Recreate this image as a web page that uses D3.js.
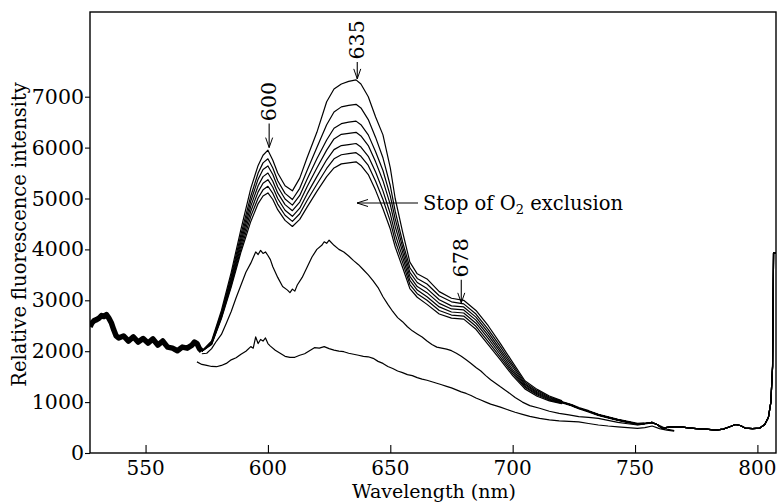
<!DOCTYPE html>
<html>
<head>
<meta charset="utf-8">
<script src="https://cdn.jsdelivr.net/npm/d3@7/dist/d3.min.js"></script>
<style>
  body { margin: 0; background: #fff; }
  svg { display: block; font-family: "DejaVu Serif", serif; }
</style>
</head>
<body>
<svg></svg>
<script>
//-------------------
// DATA
//-------------------
var xTicks = [550, 600, 650, 700, 750, 800];
var yTicks = [0, 1000, 2000, 3000, 4000, 5000, 6000, 7000];

// shared start of the seven O2-exclusion spectra
var leftTailWl = [527.3, 528, 529, 530, 531, 532, 533, 534, 535, 536, 537, 538, 539, 541, 543, 545, 547, 549, 551, 553, 555, 557, 559, 561, 563, 565, 567, 569, 570, 571, 572, 573];
var leftTailVal = [2480, 2550, 2600, 2620, 2650, 2700, 2680, 2720, 2650, 2560, 2420, 2300, 2260, 2300, 2200, 2280, 2180, 2250, 2160, 2240, 2120, 2200, 2080, 2060, 2010, 2080, 2060, 2120, 2180, 2150, 2050, 2000];

// peak region, one row per spectrum
var peakWl = [573, 577, 581, 585, 589, 593, 596, 598, 600, 602, 604, 607, 610, 613, 616, 620, 624, 627, 630, 633, 636, 638, 641, 644, 647, 650, 652, 655, 658, 661, 665, 670, 675, 680, 685, 690, 695, 700, 705, 710, 715, 720];
var trace1 = [2000, 2200, 2800, 3550, 4400, 5200, 5650, 5850, 5950, 5750, 5500, 5250, 5150, 5400, 5800, 6300, 6900, 7150, 7250, 7300, 7330, 7250, 7000, 6600, 6250, 5600, 5000, 4350, 3750, 3520, 3420, 3170, 3040, 3000, 2800, 2500, 2150, 1780, 1420, 1250, 1120, 1030];
var trace2 = [2000, 2180, 2750, 3480, 4300, 5050, 5500, 5700, 5780, 5600, 5350, 5100, 4980, 5200, 5550, 6000, 6450, 6700, 6800, 6830, 6850, 6780, 6550, 6200, 5800, 5250, 4750, 4150, 3640, 3430, 3320, 3090, 2970, 2930, 2730, 2430, 2090, 1730, 1390, 1225, 1100, 1020];
var trace3 = [2000, 2170, 2720, 3430, 4220, 4950, 5380, 5570, 5640, 5470, 5230, 4990, 4870, 5060, 5380, 5780, 6150, 6380, 6470, 6500, 6520, 6450, 6250, 5920, 5550, 5050, 4600, 4050, 3550, 3350, 3230, 3010, 2890, 2870, 2670, 2370, 2030, 1690, 1360, 1200, 1085, 1010];
var trace4 = [2000, 2160, 2700, 3380, 4150, 4850, 5250, 5430, 5500, 5340, 5110, 4880, 4760, 4930, 5230, 5600, 5950, 6170, 6260, 6280, 6300, 6230, 6040, 5720, 5350, 4880, 4450, 3950, 3470, 3270, 3150, 2940, 2830, 2810, 2610, 2310, 1980, 1640, 1340, 1180, 1070, 1000];
var trace5 = [2000, 2150, 2680, 3340, 4080, 4750, 5130, 5300, 5370, 5220, 5000, 4770, 4650, 4810, 5090, 5430, 5760, 5960, 6040, 6060, 6080, 6010, 5830, 5520, 5150, 4700, 4300, 3850, 3390, 3200, 3070, 2870, 2770, 2750, 2550, 2250, 1930, 1600, 1310, 1160, 1055, 990];
var trace6 = [2000, 2140, 2660, 3300, 4010, 4650, 5010, 5170, 5240, 5100, 4890, 4670, 4550, 4700, 4960, 5280, 5590, 5780, 5860, 5880, 5900, 5830, 5650, 5340, 4980, 4550, 4170, 3750, 3310, 3130, 3000, 2800, 2710, 2690, 2490, 2190, 1880, 1560, 1290, 1140, 1040, 980];
var trace7 = [2000, 2130, 2640, 3260, 3950, 4550, 4900, 5050, 5110, 4980, 4780, 4570, 4450, 4590, 4830, 5140, 5430, 5600, 5680, 5700, 5720, 5650, 5470, 5160, 4800, 4400, 4050, 3650, 3230, 3060, 2920, 2730, 2650, 2630, 2430, 2130, 1830, 1520, 1260, 1115, 1025, 970];

// shared end of the seven spectra
var rightTailWl = [720, 724, 727, 731, 735, 739, 743, 747, 751, 754, 757, 759, 761, 764, 768, 771, 775, 779, 783, 786, 789, 791, 793, 795, 798, 801, 803, 804.5, 805.5, 806.2, 806.6, 807.6];
var rightTailVal = [1000, 940, 880, 820, 750, 700, 650, 610, 570, 580, 600, 560, 490, 510, 520, 500, 480, 470, 450, 470, 520, 560, 540, 490, 480, 490, 560, 700, 1000, 1700, 3930, 3930];

// spectrum after the stop of O2 exclusion
var midWl = [573, 575, 577, 579, 581, 583, 585, 587, 589, 591, 593, 595, 596, 597, 598, 599, 600, 601, 602, 604, 606, 608, 609, 610, 611, 612, 614, 616, 618, 620, 622, 623, 624, 625, 627, 629, 631, 633, 635, 637, 639, 641, 643, 645, 647, 649, 651, 653, 655, 657, 659, 661, 663, 665, 667, 669, 671, 673, 675, 677, 679, 681, 683, 685, 687, 689, 691, 693, 695, 698, 701, 704, 707, 711, 715, 719, 723, 727, 731, 735, 739, 743, 747, 751, 754, 757, 760, 763, 766];
var midVal = [1950, 1960, 2050, 2200, 2330, 2550, 2780, 3050, 3300, 3550, 3730, 3950, 3900, 3980, 3920, 3950, 3880, 3800, 3660, 3450, 3270, 3200, 3150, 3220, 3180, 3300, 3450, 3650, 3850, 4000, 4080, 4150, 4120, 4180, 4080, 4000, 3950, 3870, 3780, 3700, 3600, 3500, 3380, 3250, 3070, 2920, 2780, 2660, 2580, 2480, 2400, 2340, 2280, 2200, 2130, 2080, 2060, 2040, 2010, 1960, 1900, 1830, 1760, 1680, 1610, 1520, 1440, 1370, 1300, 1200, 1090, 1000, 930, 880, 820, 780, 750, 715, 700, 680, 640, 600, 575, 550, 570, 590, 540, 470, 440];

// lowest spectrum
var lowWl = [571, 573, 575, 577, 579, 581, 583, 585, 587, 589, 591, 593, 594, 595, 596, 597, 598, 599, 600, 601, 603, 605, 607, 609, 611, 613, 615, 617, 619, 621, 623, 625, 627, 629, 631, 633, 635, 637, 639, 641, 643, 645, 647, 649, 651, 653, 655, 657, 659, 661, 663, 665, 667, 669, 671, 673, 675, 677, 679, 681, 683, 685, 687, 689, 691, 693, 695, 698, 701, 704, 707, 711, 715, 719, 723, 727, 731, 735, 739, 743, 747, 751, 754, 757, 760, 763, 766];
var lowVal = [1790, 1740, 1720, 1700, 1695, 1720, 1760, 1830, 1870, 1940, 2000, 2090, 2060, 2280, 2150, 2230, 2200, 2260, 2150, 2100, 2020, 1960, 1900, 1880, 1880, 1920, 1950, 2010, 2070, 2060, 2090, 2050, 2020, 2000, 1990, 1960, 1940, 1920, 1900, 1890, 1860, 1800, 1760, 1700, 1660, 1610, 1580, 1540, 1520, 1480, 1450, 1430, 1400, 1370, 1340, 1310, 1280, 1240, 1200, 1170, 1130, 1080, 1040, 1000, 960, 930, 900, 850, 800, 760, 720, 680, 650, 630, 620, 610, 580, 550, 530, 515, 500, 485, 500, 530, 480, 450, 430];

// peak markers
var markLabels = ["600", "635", "678"];
var markWl = [600.5, 636.5, 679];
var markVal = [6000, 7350, 2950];
var markArrowLen = [24, 17, 23];

//-------------------
// LAYOUT
//-------------------
var width = 777, height = 503;
var plot = { left: 90, right: 776, top: 12, bottom: 453 };
var tickFont = 20, labelFont = 19;

var svg = d3.select("svg")
    .attr("width", width)
    .attr("height", height);

var x = d3.scaleLinear().domain([527.3, 807.6]).range([plot.left, plot.right]);
var y = d3.scaleLinear().domain([0, 8664]).range([plot.bottom, plot.top]);

svg.append("defs").append("clipPath").attr("id", "clip")
    .append("rect")
    .attr("x", plot.left).attr("y", plot.top)
    .attr("width", plot.right - plot.left)
    .attr("height", plot.bottom - plot.top);

var line = d3.line()
    .x(d => x(d[0]))
    .y(d => y(d[1]));

function pairs(wl, val) {
    return wl.map((w, i) => [w, val[i]]);
}

//-------------------
// ANNOTATIONS (under the curves)
//-------------------
var stopY = 203;
svg.append("line")
    .attr("x1", 357).attr("x2", 418)
    .attr("y1", stopY).attr("y2", stopY)
    .attr("stroke", "#000").attr("stroke-width", 1.1);
svg.append("path")
    .attr("d", `M368,${stopY - 3.5}L357,${stopY}L368,${stopY + 3.5}`)
    .attr("fill", "none").attr("stroke", "#000").attr("stroke-width", 1);

var stopText = svg.append("text")
    .attr("x", 423).attr("y", 210)
    .attr("font-size", 19.5);
stopText.append("tspan").text("Stop of O");
stopText.append("tspan").attr("font-size", 13).attr("dy", 4).text("2");
stopText.append("tspan").attr("dy", -4).text(" exclusion");

//-------------------
// CURVES
//-------------------
var curves = svg.append("g").attr("clip-path", "url(#clip)")
    .attr("fill", "none").attr("stroke", "#000")
    .attr("stroke-linejoin", "round");

var traces = [trace1, trace2, trace3, trace4, trace5, trace6, trace7];

curves.append("path")
    .attr("d", line(pairs(leftTailWl, leftTailVal)))
    .attr("stroke-width", 5.5);

traces.forEach(t => {
    var pts = [[leftTailWl[leftTailWl.length - 1], leftTailVal[leftTailVal.length - 1]]]
        .concat(pairs(peakWl, t))
        .concat(pairs(rightTailWl, rightTailVal));
    curves.append("path")
        .attr("d", line(pts))
        .attr("stroke-width", 1.2);
});

curves.append("path")
    .attr("d", line(pairs(rightTailWl.slice(0, 10), rightTailVal.slice(0, 10))))
    .attr("stroke-width", 2.4);

curves.append("path")
    .attr("d", line(pairs(midWl, midVal)))
    .attr("stroke-width", 1.2);

curves.append("path")
    .attr("d", line(pairs(lowWl, lowVal)))
    .attr("stroke-width", 1.2);

//-------------------
// PEAK MARKERS
//-------------------
markLabels.forEach((lab, i) => {
    var px = x(markWl[i]);
    var tip = y(markVal[i]);
    var len = markArrowLen[i];
    svg.append("line")
        .attr("x1", px).attr("x2", px)
        .attr("y1", tip - len).attr("y2", tip)
        .attr("stroke", "#000").attr("stroke-width", 1.1);
    svg.append("path")
        .attr("d", `M${px - 3.5},${tip - 10}L${px},${tip}L${px + 3.5},${tip - 10}`)
        .attr("fill", "none").attr("stroke", "#000").attr("stroke-width", 1);
    svg.append("text")
        .attr("transform", `translate(${px - 1},${tip - len - 22}) rotate(-90)`)
        .attr("text-anchor", "middle")
        .attr("dy", "0.36em")
        .attr("font-size", 20.5)
        .text(lab);
});

//-------------------
// AXES AND FRAME
//-------------------
var xAxis = svg.append("g")
    .attr("transform", `translate(0,${plot.bottom})`)
    .call(d3.axisTop(x).tickValues(xTicks).tickSize(8).tickFormat(""));
xAxis.select(".domain").remove();
xAxis.selectAll("line").attr("stroke-width", 1.1);

svg.append("g").selectAll("text")
    .data(xTicks)
    .enter()
    .append("text")
    .attr("x", d => x(d))
    .attr("y", 475)
    .attr("text-anchor", "middle")
    .attr("font-size", tickFont)
    .text(d => d);

var yAxis = svg.append("g")
    .attr("transform", `translate(${plot.left},0)`)
    .call(d3.axisLeft(y).tickValues(yTicks).tickSize(5).tickPadding(1).tickFormat(d3.format("d")));
yAxis.select(".domain").remove();
yAxis.selectAll("line").attr("stroke-width", 1.1);
yAxis.selectAll("text")
    .attr("font-family", "DejaVu Serif, serif")
    .attr("font-size", 20.5)
    .attr("fill", "#000");

svg.append("rect")
    .attr("x", plot.left).attr("y", plot.top)
    .attr("width", plot.right - plot.left)
    .attr("height", plot.bottom - plot.top)
    .attr("fill", "none").attr("stroke", "#000").attr("stroke-width", 1.4);

svg.append("text")
    .attr("x", 434).attr("y", 498)
    .attr("text-anchor", "middle")
    .attr("font-size", labelFont)
    .text("Wavelength (nm)");

svg.append("text")
    .attr("transform", "translate(26,234.5) rotate(-90)")
    .attr("text-anchor", "middle")
    .attr("font-size", 19.5)
    .text("Relative fluorescence intensity");
</script>
</body>
</html>
